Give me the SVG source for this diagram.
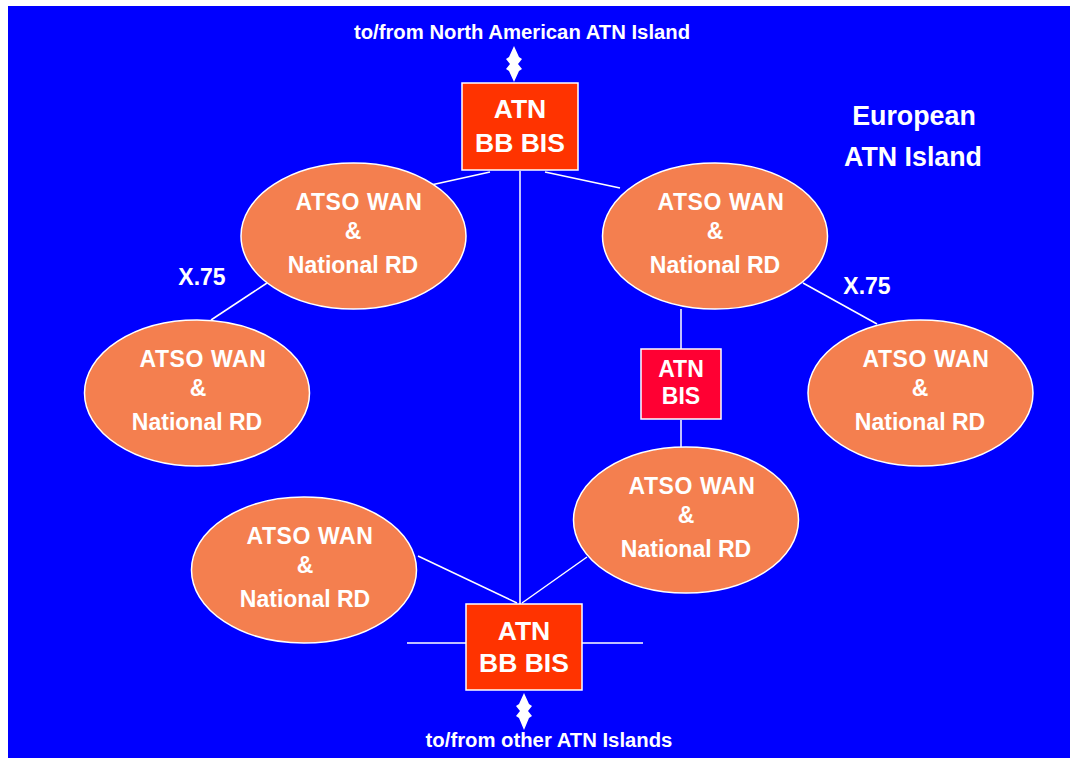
<svg xmlns="http://www.w3.org/2000/svg" width="1070" height="758" viewBox="0 0 1070 758">
  <style>
    .bg { fill: #0000FF; }
    .rd { fill: #F47F4F; stroke: #FFFFFF; stroke-width: 1.5; }
    .bb { fill: #FF3300; stroke: #FFFFFF; stroke-width: 1.5; }
    .bis { fill: #FF0033; stroke: #FFFFFF; stroke-width: 1.5; }
    .link { stroke: #FFFFFF; stroke-width: 1.5; fill: none; }
    .arr { fill: #FFFFFF; }
    text { font-family: "Liberation Sans", Arial, sans-serif; font-weight: bold; fill: #FFFFFF; text-anchor: middle; }
    .t23 { font-size: 23px; }
    .wan { letter-spacing: 0.6px; }
    .t26 { font-size: 26.5px; }
    .t27 { font-size: 26.8px; }
    .t20 { font-size: 20.3px; }
  </style>

  <rect class="bg" x="8" y="6" width="1062" height="752"/>

  <!-- connectors -->
  <g id="connectors">
    <line class="link" x1="520" y1="171" x2="520" y2="604"/>
    <line class="link" x1="431" y1="185" x2="490" y2="172"/>
    <line class="link" x1="545" y1="172" x2="620" y2="188"/>
    <line class="link" x1="267" y1="283" x2="211" y2="320"/>
    <line class="link" x1="803" y1="283" x2="877" y2="324"/>
    <line class="link" x1="681" y1="309" x2="681" y2="349"/>
    <line class="link" x1="681" y1="420" x2="681" y2="447"/>
    <line class="link" x1="418" y1="556" x2="517" y2="603"/>
    <line class="link" x1="587" y1="557" x2="522" y2="603"/>
    <line class="link" x1="407" y1="643" x2="643" y2="643"/>
    <!-- double-headed arrows to other islands -->
    <polygon class="arr" points="514,46 519,57 522,59 518,64 522,69 519,71 514,82 509,71 506,69 510,64 506,59 509,57"/>
    <polygon class="arr" points="524,693 529,704 532,706 528,711 532,716 529,718 524,730 519,718 516,716 520,711 516,706 519,704"/>
  </g>

  <text class="t20" x="522" y="39">to/from North American ATN Island</text>
  <text class="t20" x="549" y="747">to/from other ATN Islands</text>
  <text class="t27" x="914" y="125">European</text>
  <text class="t27" x="913" y="166">ATN Island</text>
  <text class="t23" x="202" y="285">X.75</text>
  <text class="t23" x="867" y="294">X.75</text>

  <g id="bb-bis-top">
    <rect class="bb" x="462" y="83" width="116" height="87"/>
    <text class="t26" x="520" y="118">ATN</text>
    <text class="t26" x="520" y="152">BB BIS</text>
  </g>

  <g id="bb-bis-bottom">
    <rect class="bb" x="466" y="604" width="116" height="86"/>
    <text class="t26" x="524" y="640">ATN</text>
    <text class="t26" x="524" y="672">BB BIS</text>
  </g>

  <g id="atn-bis">
    <rect class="bis" x="641" y="349" width="80" height="70"/>
    <text class="t23" x="681" y="377">ATN</text>
    <text class="t23" x="681" y="404">BIS</text>
  </g>

  <g id="rd-top-left">
    <ellipse class="rd" cx="353.5" cy="236" rx="112.5" ry="73"/>
    <text class="t23 wan" x="359" y="210">ATSO WAN</text>
    <text class="t23" x="353" y="239">&amp;</text>
    <text class="t23" x="353" y="273">National RD</text>
  </g>

  <g id="rd-top-right">
    <ellipse class="rd" cx="715" cy="236" rx="112.5" ry="73"/>
    <text class="t23 wan" x="721" y="210">ATSO WAN</text>
    <text class="t23" x="715" y="239">&amp;</text>
    <text class="t23" x="715" y="273">National RD</text>
  </g>

  <g id="rd-mid-left">
    <ellipse class="rd" cx="197" cy="393" rx="112.5" ry="73"/>
    <text class="t23 wan" x="203" y="367">ATSO WAN</text>
    <text class="t23" x="198" y="396">&amp;</text>
    <text class="t23" x="197" y="430">National RD</text>
  </g>

  <g id="rd-mid-right">
    <ellipse class="rd" cx="920.5" cy="393" rx="112.5" ry="73"/>
    <text class="t23 wan" x="926" y="367">ATSO WAN</text>
    <text class="t23" x="920" y="396">&amp;</text>
    <text class="t23" x="920" y="430">National RD</text>
  </g>

  <g id="rd-lower-center">
    <ellipse class="rd" cx="686" cy="520" rx="112.5" ry="73"/>
    <text class="t23 wan" x="692" y="494">ATSO WAN</text>
    <text class="t23" x="686" y="523">&amp;</text>
    <text class="t23" x="686" y="557">National RD</text>
  </g>

  <g id="rd-lower-left">
    <ellipse class="rd" cx="304" cy="570" rx="112.5" ry="73"/>
    <text class="t23 wan" x="310" y="544">ATSO WAN</text>
    <text class="t23" x="305" y="573">&amp;</text>
    <text class="t23" x="305" y="607">National RD</text>
  </g>
</svg>
